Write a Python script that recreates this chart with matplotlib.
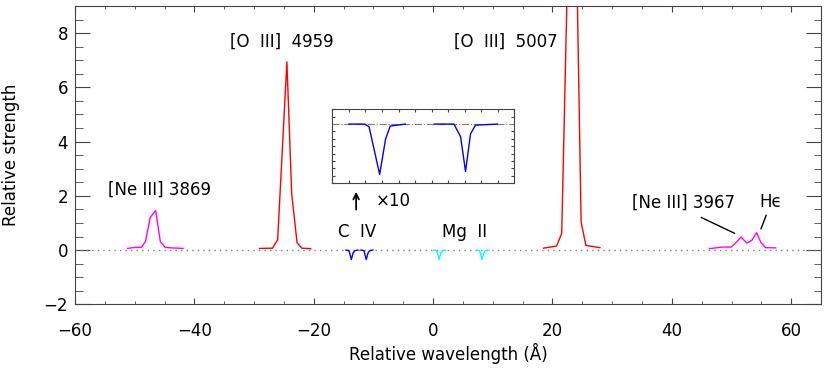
import numpy as np
import matplotlib
matplotlib.use("Agg")
import matplotlib.pyplot as plt
from matplotlib.ticker import MultipleLocator

plt.rcParams['font.family'] = ['DejaVu Sans']

# emission lines (relative wavelength in A, relative strength)
ne3869_x = [-51.2, -49.9, -48.9, -48.2, -47.4, -46.5, -45.7, -44.9, -43.8, -41.9]
ne3869_y = [0.06, 0.10, 0.10, 0.31, 1.20, 1.46, 0.31, 0.10, 0.08, 0.06]

o4959_x = [-29.1, -26.9, -26.05, -24.5, -23.7, -22.8, -22.0, -20.5]
o4959_y = [0.06, 0.07, 0.38, 6.94, 2.09, 0.27, 0.07, 0.05]

o5007_x = [18.5, 20.7, 21.55, 22.4, 23.1, 23.8, 24.8, 25.6, 27.95]
o5007_y = [0.07, 0.15, 0.62, 9.0, 21.0, 14.0, 1.03, 0.17, 0.09]

ne3967_x = [46.3, 48.4, 49.95, 50.6, 51.6, 52.55, 53.4, 54.2, 54.95, 55.7, 57.4]
ne3967_y = [0.05, 0.11, 0.11, 0.24, 0.48, 0.26, 0.36, 0.64, 0.27, 0.09, 0.08]

# absorption lines
civ1_x = [-14.6, -14.1, -13.7, -13.4, -13.1, -12.6]
civ2_x = [-12.1, -11.6, -11.2, -10.9, -10.6, -10.1]
mg1_x = [0.1, 0.6, 1.0, 1.3, 1.6, 2.1]
mg2_x = [7.3, 7.8, 8.2, 8.5, 8.8, 9.3]
abs_y = [0.0, -0.02, -0.35, -0.10, -0.02, 0.0]

# inset (x10)
ins1_x = [1.0, 1.96, 2.22, 2.86, 3.22, 3.5, 4.41]
ins1_y = [0.0, 0.0, -0.018, -0.34, -0.10, -0.013, 0.0]
ins2_x = [6.15, 7.35, 7.75, 8.05, 8.35, 8.65, 9.98]
ins2_y = [0.0, 0.0, -0.085, -0.32, -0.067, -0.007, 0.0]

fig = plt.figure(figsize=(8.3, 3.68), dpi=100)
ax = fig.add_axes([0.0904, 0.1731, 0.8988, 0.8106])

ax.axhline(0, color='grey', ls=(0, (1, 3)), lw=1.0)
ax.plot(ne3869_x, ne3869_y, color='magenta', lw=1.0)
ax.plot(o4959_x, o4959_y, color='red', lw=1.0)
ax.plot(o5007_x, o5007_y, color='red', lw=1.0)
ax.plot(ne3967_x, ne3967_y, color='magenta', lw=1.0)
ax.plot(civ1_x, abs_y, color='blue', lw=1.0)
ax.plot(civ2_x, abs_y, color='blue', lw=1.0)
ax.plot(mg1_x, abs_y, color='cyan', lw=1.0)
ax.plot(mg2_x, abs_y, color='cyan', lw=1.0)

ax.set_xlim(-60, 65)
ax.set_ylim(-2, 9)
ax.xaxis.set_major_locator(MultipleLocator(20))
ax.xaxis.set_minor_locator(MultipleLocator(5))
ax.yaxis.set_major_locator(MultipleLocator(2))
ax.yaxis.set_minor_locator(MultipleLocator(0.5))
ax.tick_params(axis='x', which='major', direction='in', length=4.3, top=True, labelsize=12, pad=13)
ax.tick_params(axis='x', which='minor', direction='in', length=2.2, top=True)
ax.tick_params(axis='y', which='major', direction='in', length=10.8, right=True, labelsize=12, pad=5)
ax.tick_params(axis='y', which='minor', direction='in', length=5.4, right=True)
for s in ax.spines.values():
    s.set_color('#444444')
ax.tick_params(which='both', color='#444444')
ax.set_xlabel('Relative wavelength (Å)', fontsize=12, labelpad=2)
ax.set_ylabel('Relative strength', fontsize=12, labelpad=17)

fs = 12
ax.text(-25.3, 7.7, '[O  III]  4959', ha='center', va='center', fontsize=fs)
ax.text(12.2, 7.7, '[O  III]  5007', ha='center', va='center', fontsize=fs)
ax.text(-45.8, 2.24, '[Ne III] 3869', ha='center', va='center', fontsize=fs)
ax.text(-12.8, 0.65, 'C  IV', ha='center', va='center', fontsize=fs)
ax.text(5.3, 0.65, 'Mg  II', ha='center', va='center', fontsize=fs)
ax.text(42.0, 1.76, '[Ne III] 3967', ha='center', va='center', fontsize=fs)
ax.text(56.5, 1.76, 'Hϵ', ha='center', va='center', fontsize=fs)
ax.plot([44.95, 50.5], [1.2, 0.62], color='black', lw=1.0)
ax.plot([55.8, 54.95], [1.28, 0.79], color='black', lw=1.0)

ax.annotate('', xy=(-12.9, 2.25), xytext=(-12.9, 1.39),
            arrowprops=dict(arrowstyle='->', color='black', lw=1.3))
ax.text(-9.7, 1.81, '×10', ha='left', va='center', fontsize=fs)

# inset
ins = fig.add_axes([0.4004, 0.5019, 0.2193, 0.2011])
ins.axhline(0, color='grey', ls='-.', lw=0.8)
ins.plot(ins1_x, ins1_y, color='blue', lw=1.0)
ins.plot(ins2_x, ins2_y, color='blue', lw=1.0)
ins.set_xlim(0, 11)
ins.set_ylim(-0.4, 0.1)
ins.xaxis.set_major_locator(MultipleLocator(1))
ins.yaxis.set_major_locator(MultipleLocator(0.05))
ins.tick_params(which='both', direction='in', length=2.5, top=True, right=True,
                labelbottom=False, labelleft=False, color='#444444')
for s in ins.spines.values():
    s.set_color('#444444')

fig.savefig('out.png', dpi=100)
